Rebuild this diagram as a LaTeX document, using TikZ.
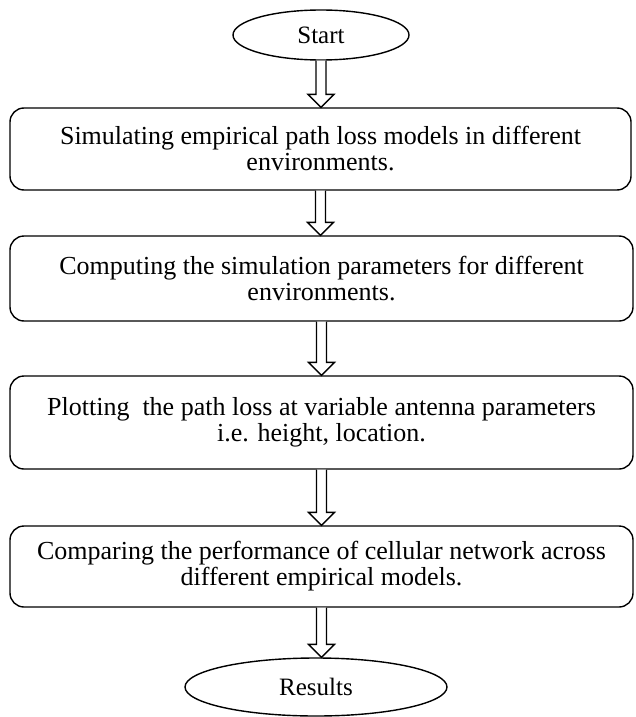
\documentclass[tikz,border=0pt]{standalone}
\usepackage{fontspec}
\setmainfont{Liberation Serif}
\usetikzlibrary{shapes.geometric,calc}

\tikzset{
  x=1pt, y=-1pt,
  flowbox/.style={draw, line width=1.4pt, rounded corners=14pt, fill=white,
    align=center, inner sep=0pt, font=\fontsize{26}{26}\selectfont},
  terminal/.style={draw, ellipse, line width=1.4pt, fill=white,
    inner sep=0pt, font=\fontsize{25}{25}\selectfont},
  flowarrow/.style={draw, line width=1.4pt, fill=white, line join=miter}
}

% hollow block arrow from the bottom of #1 to the top of #2
\newcommand\blockarrow[2]{%
  \path[flowarrow] let \p1=(#1.south), \p2=(#2.north) in
    (\x1-5pt,\y1) -- (\x1-5pt,\y2+13pt) -- (\x1-13pt,\y2+13pt) -- (\x1,\y2)
    -- (\x1+13pt,\y2+13pt) -- (\x1+5pt,\y2+13pt) -- (\x1+5pt,\y1);}

\begin{document}
\begin{tikzpicture}
  \useasboundingbox (0,0) rectangle (635,717);

  \node[terminal, minimum width=176pt, minimum height=50pt] (start) at (321,35) {Start};

  \node[flowbox, minimum width=621pt, minimum height=82pt] (sim) at (320.5,149)
    {Simulating empirical path loss models in different\\environments.};

  \node[flowbox, minimum width=623pt, minimum height=85pt] (comp) at (321.5,278.5)
    {Computing the simulation parameters for different\\environments.};

  \node[flowbox, minimum width=623pt, minimum height=93pt] (plot) at (321.5,422.5)
    {Plotting\ \ the path loss at variable antenna parameters\\i.e. height, location.};

  \node[flowbox, minimum width=623pt, minimum height=81pt] (cmp) at (321.5,566.5)
    {Comparing the performance of cellular network across\\different empirical models.};

  \node[terminal, minimum width=262pt, minimum height=58pt] (res) at (316,687) {Results};

  \blockarrow{start}{sim}
  \blockarrow{sim}{comp}
  \blockarrow{comp}{plot}
  \blockarrow{plot}{cmp}
  \blockarrow{cmp}{res}
\end{tikzpicture}
\end{document}
